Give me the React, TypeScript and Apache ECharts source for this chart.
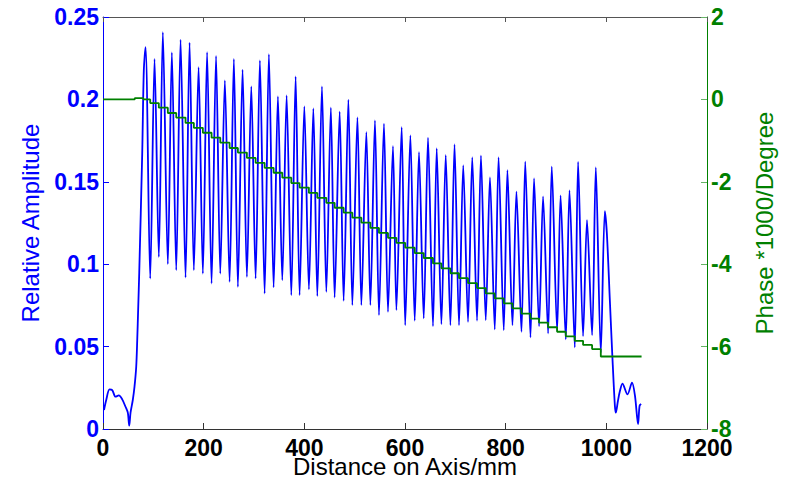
import React, { useEffect, useRef } from "react";
import * as echarts from "echarts";

// Amplitude: lead-in segment (before the first peak)
const startX = [2, 6.4, 12.9, 18.3, 24.9, 31.4, 38.2, 44.7, 49.3, 52.1, 54.7, 59.2, 62.6, 66, 68, 70, 72, 77.9, 81.1];
const startY = [0.0115, 0.0176, 0.024, 0.0236, 0.0196, 0.0204, 0.018, 0.0135, 0.0099, 0.002, 0.0099, 0.0176, 0.0257, 0.0378, 0.0538, 0.074, 0.095, 0.167, 0.2176];

// Amplitude peaks
const peakX = [84.5, 102.4, 118.9, 136.8, 154.1, 172, 189.9, 206.8, 224.6, 242.1,
  260, 277.3, 294.6, 311.7, 329.6, 347.5, 364.8, 382.7, 400, 417.9,
  435, 452.7, 470.2, 487.5, 505.5, 523.2, 540.3, 558.2, 576.1, 593.4,
  610.7, 627.8, 645.7, 663, 680.9, 698.4, 715.7, 733.6, 750.9, 768.8,
  785.9, 803.5, 821.4, 838.9, 856.4, 874.3, 891.6, 909.1, 926.8, 943.9,
  961.6, 979.1, 997];
const peakY = [0.2317, 0.2246, 0.2408, 0.2285, 0.2362, 0.2345, 0.2196, 0.2287, 0.2264, 0.2115,
  0.2246, 0.218, 0.2079, 0.2236, 0.2275, 0.2018, 0.2024, 0.2139, 0.1958, 0.1945,
  0.2079, 0.195, 0.1925, 0.1999, 0.1891, 0.1802, 0.1873, 0.1853, 0.1716, 0.1832,
  0.1782, 0.168, 0.1768, 0.1702, 0.1661, 0.1727, 0.16, 0.1648, 0.1658, 0.1526,
  0.1648, 0.157, 0.144, 0.1622, 0.1521, 0.1412, 0.1592, 0.1418, 0.1448, 0.162,
  0.1267, 0.1588, 0.1322];

// Amplitude troughs (between consecutive peaks)
const troughX = [93.8, 110.9, 128.8, 145.5, 164, 180.5, 198.4, 215.7, 233, 251.5,
  268, 285.9, 303.2, 321.1, 339, 356.2, 374.1, 390.6, 409.1, 425.8,
  443.7, 460.2, 478.1, 495.4, 513.3, 531.2, 548.3, 566.2, 582.9, 600.4,
  619.3, 637.2, 655.6, 672.3, 690.2, 707.3, 725.2, 743.1, 760.4, 778.3,
  796.2, 813.5, 831.4, 849.3, 866.4, 884.3, 902.2, 919.4, 937.3, 953.8,
  971.7, 989];
const troughY = [0.0913, 0.1044, 0.1, 0.0964, 0.0919, 0.0964, 0.0943, 0.0883, 0.0943, 0.0893,
  0.0863, 0.0923, 0.0913, 0.0822, 0.0859, 0.0903, 0.0812, 0.0812, 0.0847, 0.0806,
  0.0832, 0.0798, 0.0778, 0.0752, 0.0752, 0.0752, 0.0691, 0.0711, 0.0721, 0.063,
  0.0657, 0.0671, 0.0624, 0.0636, 0.063, 0.063, 0.065, 0.0657, 0.0661, 0.0604,
  0.06, 0.063, 0.059, 0.0556, 0.0624, 0.058, 0.0596, 0.0544, 0.0495, 0.0564,
  0.057, 0.0462];

// Amplitude tail segment (after the last peak)
const endX = [1001, 1007, 1012, 1017, 1019, 1023, 1027, 1032, 1042, 1051, 1057, 1063, 1066, 1069];
const endY = [0.119, 0.078, 0.044, 0.014, 0.0099, 0.017, 0.023, 0.0275, 0.021, 0.0281, 0.02, 0.003, 0.014, 0.0152];

// Phase (*1000 degree): step levels, one per trough position
const phaseLeadX = [0, 63, 80];
const phaseLeadY = [0, 0.03, 0];
const phaseLevels = [-0.09, -0.2, -0.33, -0.44, -0.57, -0.69, -0.81, -0.93, -1.05, -1.18,
  -1.29, -1.42, -1.54, -1.66, -1.78, -1.9, -2.03, -2.14, -2.27, -2.39,
  -2.51, -2.63, -2.75, -2.87, -2.99, -3.12, -3.24, -3.36, -3.48, -3.6,
  -3.73, -3.85, -3.98, -4.1, -4.22, -4.34, -4.46, -4.58, -4.71, -4.83,
  -4.95, -5.07, -5.2, -5.32, -5.42, -5.53, -5.64, -5.75, -5.86, -5.96,
  -6.06, -6.24];
const phaseEndX = 1070;

const xTicks = { min: 0, max: 1200, interval: 200 };
const ampTicks = { min: 0, max: 0.25, interval: 0.05 };
const phaseTicks = { min: -8, max: 2, interval: 2 };

const FONT = "'Liberation Sans', Arial, Helvetica, sans-serif";

export default function App() {
  const ref = useRef<HTMLDivElement>(null);
  useEffect(() => {
    if (!ref.current) return;
    const chart = echarts.init(ref.current, null, { renderer: "svg" });

    const ampData: number[][] = [];
    startX.forEach((x, i) => ampData.push([x, startY[i]]));
    peakX.forEach((x, i) => {
      ampData.push([x, peakY[i]]);
      if (i < troughX.length) ampData.push([troughX[i], troughY[i]]);
    });
    endX.forEach((x, i) => ampData.push([x, endY[i]]));

    const phaseData: number[][] = [];
    phaseLeadX.forEach((x, i) => phaseData.push([x, phaseLeadY[i]]));
    troughX.forEach((x, i) => phaseData.push([x, phaseLevels[i]]));
    phaseData.push([phaseEndX, phaseLevels[phaseLevels.length - 1]]);

    chart.setOption({
      animation: false,
      backgroundColor: "#ffffff",
      textStyle: { fontFamily: FONT },
      grid: {
        left: 103,
        right: 81,
        top: 17,
        bottom: 52,
        containLabel: false,
        outerBoundsMode: "none",
      },
      xAxis: [
        {
          type: "value",
          position: "bottom",
          ...xTicks,
          axisLine: { show: true, onZero: false, lineStyle: { color: "#333333", width: 1 } },
          axisTick: { show: true, inside: true, length: 6, lineStyle: { color: "#333333" } },
          axisLabel: {
            color: "#000000",
            fontWeight: "bold",
            fontSize: 23,
            lineHeight: 17,
            fontFamily: FONT,
            margin: 10,
            formatter: (v: number) => String(v),
          },
          splitLine: { show: false },
          name: "Distance on Axis/mm",
          nameLocation: "middle",
          nameGap: 27,
          nameMoveOverlap: false,
          nameTextStyle: { color: "#000000", fontSize: 24, lineHeight: 20, fontFamily: FONT },
        },
        {
          type: "value",
          position: "top",
          ...xTicks,
          axisLine: { show: true, onZero: false, lineStyle: { color: "#555555", width: 1 } },
          axisTick: { show: true, inside: true, length: 5, lineStyle: { color: "#555555" } },
          axisLabel: { show: false },
          splitLine: { show: false },
        },
      ],
      yAxis: [
        {
          type: "value",
          position: "left",
          ...ampTicks,
          axisLine: { show: true, onZero: false, lineStyle: { color: "#0000ff", width: 1 } },
          axisTick: { show: true, inside: true, length: 6, lineStyle: { color: "#0000ff" } },
          axisLabel: { color: "#0000ff", fontWeight: "bold", fontSize: 23, lineHeight: 18, fontFamily: FONT, margin: 4 },
          splitLine: { show: false },
          name: "Relative Amplitude",
          nameLocation: "middle",
          nameRotate: 90,
          nameGap: 61,
          nameTextStyle: { color: "#0000ff", fontSize: 24, fontFamily: FONT },
        },
        {
          type: "value",
          position: "right",
          ...phaseTicks,
          axisLine: { show: true, onZero: false, lineStyle: { color: "#008000", width: 1 } },
          axisTick: { show: true, inside: true, length: 6, lineStyle: { color: "#66b366" } },
          axisLabel: { color: "#008000", fontWeight: "bold", fontSize: 23, lineHeight: 17, fontFamily: FONT, margin: 4 },
          splitLine: { show: false },
          name: "Phase *1000/Degree",
          nameLocation: "middle",
          nameRotate: 90,
          nameGap: 45,
          nameTextStyle: { color: "#008000", fontSize: 24, fontFamily: FONT },
        },
      ],
      series: [
        {
          type: "line",
          xAxisIndex: 0,
          yAxisIndex: 0,
          data: ampData,
          symbol: "none",
          showSymbol: false,
          smooth: 0.3,
          lineStyle: { color: "#0000ff", width: 1.8 },
          z: 2,
        },
        {
          type: "line",
          xAxisIndex: 0,
          yAxisIndex: 1,
          data: phaseData,
          step: "end",
          symbol: "none",
          showSymbol: false,
          lineStyle: { color: "#008000", width: 1.8 },
          z: 3,
        },
      ],
    });
    return () => chart.dispose();
  }, []);
  return (
    <div
      ref={ref}
      style={{ position: "fixed", left: 0, top: 0, width: 788, height: 481, background: "#fff" }}
    />
  );
}
